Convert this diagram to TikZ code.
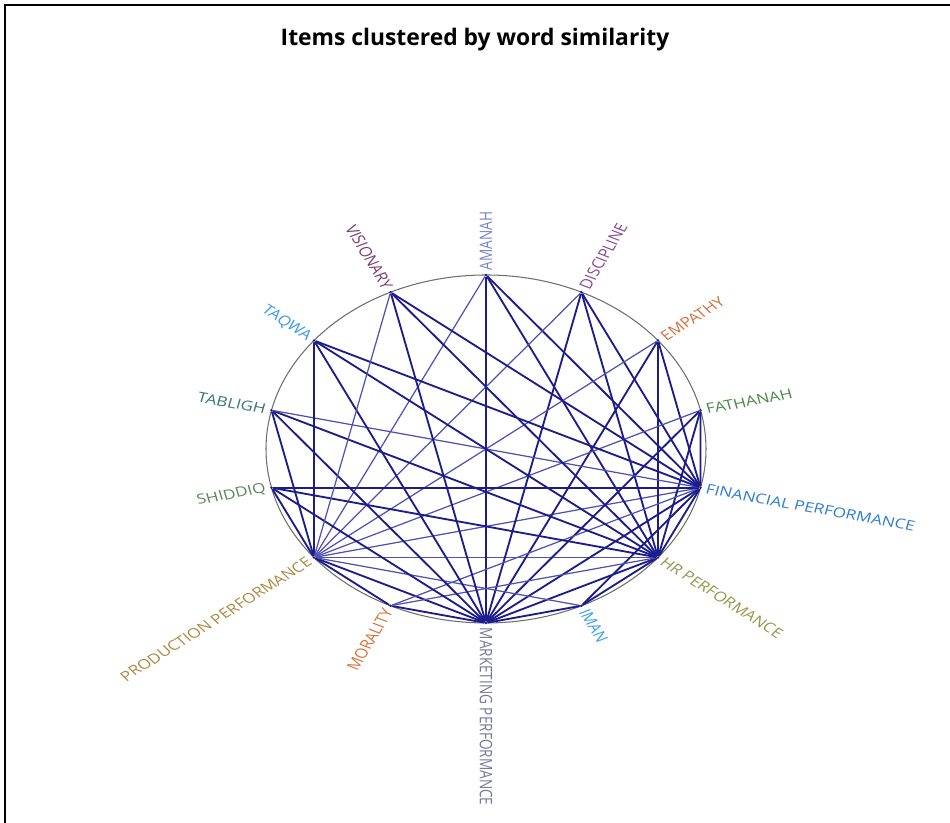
\documentclass[tikz,border=0pt]{standalone}
\usepackage{fontspec}
\setmainfont{Open Sans}

\definecolor{tieblue}{RGB}{28,28,140}
\definecolor{lighttie}{RGB}{80,80,178}
\definecolor{rimgray}{RGB}{110,110,110}
\definecolor{amcol}{RGB}{118,130,200}
\definecolor{dicol}{RGB}{140,70,150}
\definecolor{emcol}{RGB}{208,112,58}
\definecolor{facol}{RGB}{74,135,74}
\definecolor{ficol}{RGB}{44,124,214}
\definecolor{hrcol}{RGB}{150,150,72}
\definecolor{imcol}{RGB}{58,158,238}
\definecolor{mkcol}{RGB}{118,118,158}
\definecolor{mocol}{RGB}{214,114,58}
\definecolor{prcol}{RGB}{172,136,64}
\definecolor{shcol}{RGB}{88,136,88}
\definecolor{tbcol}{RGB}{54,118,118}
\definecolor{tqcol}{RGB}{58,152,236}
\definecolor{vicol}{RGB}{120,58,120}

\tikzset{
  spot/.style={circle, fill=tieblue, inner sep=0pt, minimum size=1.6pt},
  item/.style={font=\fontsize{7.75}{9}\selectfont, transform shape, inner sep=2.5pt},
  tie/.style={draw=tieblue, line width=1.05pt},
  thintie/.style={draw=lighttie, line width=0.7pt},
}

\begin{document}
\begin{tikzpicture}[x=0.02cm, y=0.02cm, xscale=1.2644]

  \useasboundingbox (-384.4,-374) rectangle (367,449);
  \draw[line width=0.9pt] (-380.4,-374) -- (-380.4,444) -- (367,444);

  \node[font=\fontsize{13}{15}\bfseries] (title) at (-8.7,409) {Items clustered by word similarity};

  \draw[rimgray, line width=0.6pt] (0,0) circle [radius=174];

  \node[spot] (am) at (90:174) {};
  \node[spot] (di) at (64.29:174) {};
  \node[spot] (em) at (38.57:174) {};
  \node[spot] (fa) at (12.86:174) {};
  \node[spot] (fi) at (-12.86:174) {};
  \node[spot] (hr) at (-38.57:174) {};
  \node[spot] (im) at (-64.29:174) {};
  \node[spot] (mk) at (-90:174) {};
  \node[spot] (mo) at (-115.71:174) {};
  \node[spot] (pr) at (-141.43:174) {};
  \node[spot] (sh) at (-167.14:174) {};
  \node[spot] (tb) at (167.14:174) {};
  \node[spot] (tq) at (141.43:174) {};
  \node[spot] (vi) at (115.71:174) {};

  % performance items
  \draw[tie] (pr) -- (mk);
  \draw[thintie] (pr) -- (hr);
  \draw[thintie] (pr) -- (fi);
  \draw[tie] (mk) -- (hr);
  \draw[tie] (mk) -- (fi);
  \draw[tie] (hr) -- (fi);

  % values to performance
  \draw[thintie] (am) -- (pr);
  \draw[tie] (am) -- (mk);
  \draw[tie] (am) -- (hr);
  \draw[tie] (am) -- (fi);
  \draw[thintie] (di) -- (pr);
  \draw[tie] (di) -- (mk);
  \draw[tie] (di) -- (hr);
  \draw[tie] (di) -- (fi);
  \draw[thintie] (em) -- (pr);
  \draw[tie] (em) -- (mk);
  \draw[tie] (em) -- (hr);
  \draw[tie] (em) -- (fi);
  \draw[thintie] (fa) -- (pr);
  \draw[tie] (fa) -- (mk);
  \draw[tie] (fa) -- (hr);
  \draw[tie] (fa) -- (fi);
  \draw[thintie] (im) -- (pr);
  \draw[tie] (im) -- (mk);
  \draw[tie] (im) -- (hr);
  \draw[tie] (im) -- (fi);
  \draw[tie] (mo) -- (pr);
  \draw[tie] (mo) -- (mk);
  \draw[thintie] (mo) -- (hr);
  \draw[thintie] (mo) -- (fi);
  \draw[tie] (sh) -- (pr);
  \draw[tie] (sh) -- (mk);
  \draw[tie] (sh) -- (hr);
  \draw[tie] (sh) -- (fi);
  \draw[tie] (tb) -- (pr);
  \draw[tie] (tb) -- (mk);
  \draw[tie] (tb) -- (hr);
  \draw[thintie] (tb) -- (fi);
  \draw[tie] (tq) -- (pr);
  \draw[tie] (tq) -- (mk);
  \draw[tie] (tq) -- (hr);
  \draw[tie] (tq) -- (fi);
  \draw[thintie] (vi) -- (pr);
  \draw[tie] (vi) -- (mk);
  \draw[tie] (vi) -- (hr);
  \draw[tie] (vi) -- (fi);

  % labels
  \node[item, text=amcol, rotate=90, anchor=west] (amlbl) at (am) {AMANAH};
  \node[item, text=dicol, rotate=64.29, anchor=west] (dilbl) at (di) {DISCIPLINE};
  \node[item, text=emcol, rotate=38.57, anchor=west] (emlbl) at (em) {EMPATHY};
  \node[item, text=facol, rotate=12.86, anchor=west] (falbl) at (fa) {FATHANAH};
  \node[item, text=ficol, rotate=-12.86, anchor=west] (filbl) at (fi) {FINANCIAL PERFORMANCE};
  \node[item, text=hrcol, rotate=-38.57, anchor=west] (hrlbl) at (hr) {HR PERFORMANCE};
  \node[item, text=imcol, rotate=-64.29, anchor=west] (imlbl) at (im) {IMAN};
  \node[item, text=mkcol, rotate=-90, anchor=west] (mklbl) at (mk) {MARKETING PERFORMANCE};
  \node[item, text=mocol, rotate=64.29, anchor=east] (molbl) at (mo) {MORALITY};
  \node[item, text=prcol, rotate=38.57, anchor=east] (prlbl) at (pr) {PRODUCTION PERFORMANCE};
  \node[item, text=shcol, rotate=12.86, anchor=east] (shlbl) at (sh) {SHIDDIQ};
  \node[item, text=tbcol, rotate=-12.86, anchor=east] (tblbl) at (tb) {TABLIGH};
  \node[item, text=tqcol, rotate=-38.57, anchor=east] (tqlbl) at (tq) {TAQWA};
  \node[item, text=vicol, rotate=-64.29, anchor=east] (vilbl) at (vi) {VISIONARY};

\end{tikzpicture}
\end{document}
